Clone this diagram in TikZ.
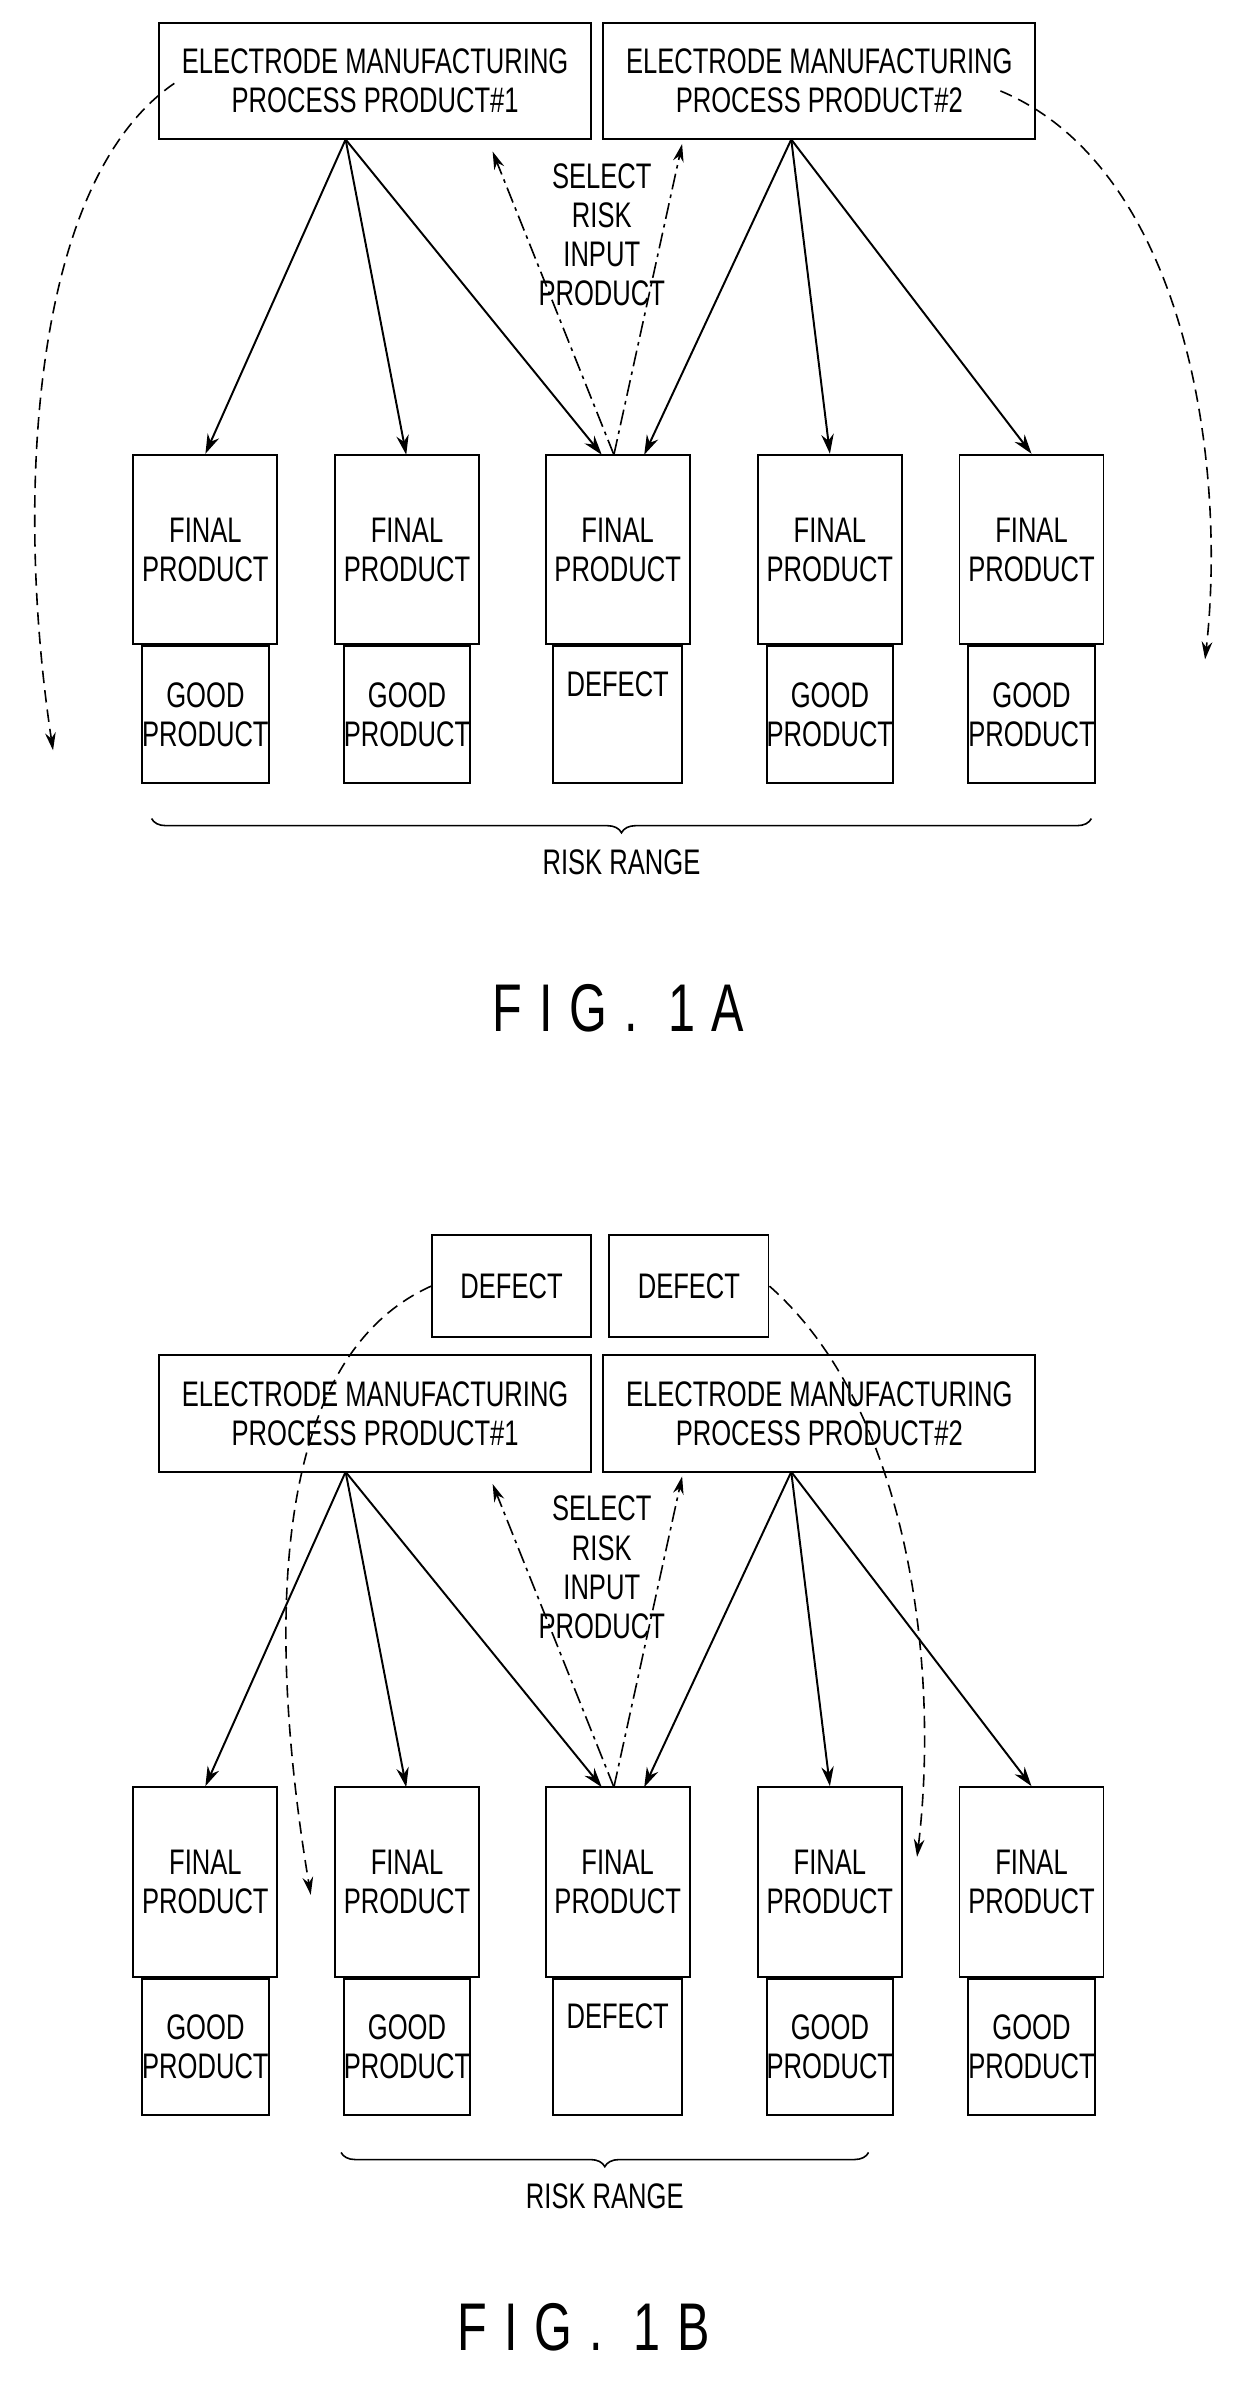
\documentclass[tikz,border=0pt]{standalone}
\usepackage{fontspec}
\setmainfont[FakeStretch=0.72]{Liberation Sans}
\usetikzlibrary{decorations.pathreplacing, arrows.meta}
\newcommand\fs{\fontsize{20}{22}\selectfont}
\newcommand\capfs{\fontsize{38}{40}\selectfont\addfontfeature{LetterSpace=25}}
\newcommand\figpart{%
  % process products
  \node[proc] (e1) at (247.5,53.5) {ELECTRODE MANUFACTURING\\PROCESS PRODUCT\#1};
  \node[proc] (e2) at (540.5,53.5) {ELECTRODE MANUFACTURING\\PROCESS PRODUCT\#2};
  % final products
  \foreach \i/\x in {1/135.5,2/268.5,3/407.5,4/547.5,5/680.5}{
    \node[final] (f\i) at (\x,362.5) {FINAL\\PRODUCT};
  }
  \node[state, anchor=north] (s1) at (f1.south) {GOOD\\PRODUCT};
  \node[state, anchor=north] (s2) at (f2.south) {GOOD\\PRODUCT};
  \node[state, anchor=north, minimum width=2.55cm, text depth=1.2cm] (s3) at (f3.south) {DEFECT};
  \node[state, anchor=north] (s4) at (f4.south) {GOOD\\PRODUCT};
  \node[state, anchor=north] (s5) at (f5.south) {GOOD\\PRODUCT};
  % arrows
  \coordinate (o1) at (228,92);
  \coordinate (o2) at (522,92);
  \draw[arr] (o1) -- (f1.north);
  \draw[arr] (o1) -- (268,300);
  \draw[arr] (o1) -- (397,300);
  \draw[arr] (o2) -- (425,300);
  \draw[arr] (o2) -- (f4.north);
  \draw[arr] (o2) -- (f5.north);
  % select risk input product
  \coordinate (sel) at (405,300);
  \node[font=\fs, align=center] (lbl) at (397,155) {SELECT\\RISK\\INPUT\\PRODUCT};
  \draw[darr] (sel) -- (325,100);
  \draw[darr] (sel) -- (450,95);
}
\begin{document}
\begin{tikzpicture}[x=0.03cm, y=-0.03cm,
    proc/.style={rectangle, draw, line width=1.1pt, minimum width=8.55cm,
                 minimum height=2.31cm, align=center, font=\fs, inner sep=0pt},
    final/.style={rectangle, draw, line width=1.1pt, minimum width=2.85cm,
                  minimum height=3.75cm, align=center, font=\fs, inner sep=0pt},
    state/.style={rectangle, draw, line width=1.1pt, minimum width=2.43cm,
                  minimum height=2.7cm, align=center, font=\fs, inner sep=0pt},
    defbox/.style={rectangle, draw, line width=1.1pt, minimum width=3.15cm,
                   minimum height=2.01cm, font=\fs, inner sep=0pt},
    arr/.style={-{Stealth[length=11pt,width=7pt]}, line width=1.1pt},
    darr/.style={-{Stealth[length=10pt,width=6pt]}, line width=0.9pt,
                 dash pattern=on 9pt off 3pt on 2pt off 3pt},
    curv/.style={-{Stealth[length=10pt,width=6pt]}, line width=0.9pt,
                 dash pattern=on 7pt off 4pt},
    brc/.style={decorate, decoration={brace, mirror, amplitude=8pt}, line width=0.9pt},
  ]
  \useasboundingbox[fill=white] (0,0) rectangle (820,1582);

  % ===== FIG. 1A =====
  \begin{scope}[name prefix=a-]
    \figpart
    \draw[curv] (115,55) .. controls (20,120) and (10,330) .. (35,495);
    \draw[curv] (660,60) .. controls (780,110) and (810,300) .. (795,435);
    \draw[brc] (100,540) -- (720,540) node[midway, below=14pt, font=\fs] (rr) {RISK RANGE};
    \node[font=\capfs] (cap) at (408,665) {FIG. 1A};
  \end{scope}

  % ===== FIG. 1B =====
  \begin{scope}[yshift=-879*0.03cm, name prefix=b-]
    \figpart
  \end{scope}
  \node[defbox] (d1) at (337.5,848.5) {DEFECT};
  \node[defbox] (d2) at (454.5,848.5) {DEFECT};
  \draw[curv] (d1.west) .. controls (170,900) and (180,1100) .. (205,1250);
  \draw[curv] (d2.east) .. controls (600,930) and (620,1100) .. (605,1225);
  \draw[brc] (225,1420) -- (573,1420) node[midway, below=14pt, font=\fs] (rr2) {RISK RANGE};
  \node[font=\capfs] (cap2) at (385,1535) {FIG. 1B};
\end{tikzpicture}
\end{document}
